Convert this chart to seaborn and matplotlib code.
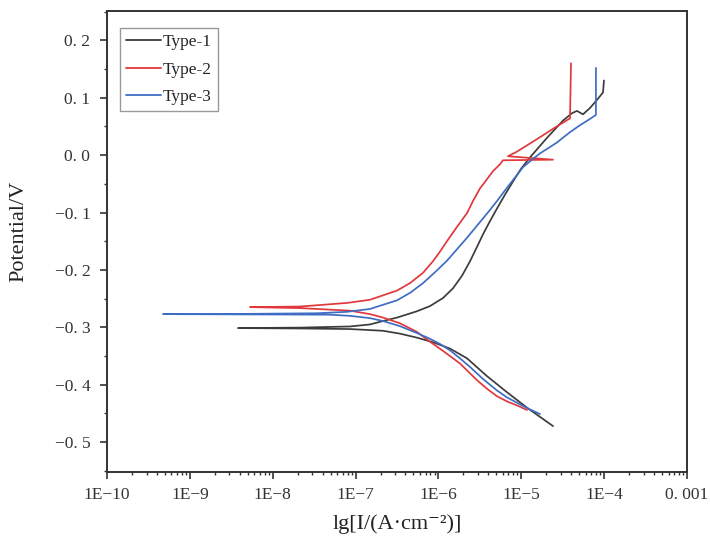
import numpy as np
import pandas as pd
import matplotlib
matplotlib.use("Agg")
import matplotlib.pyplot as plt
import seaborn as sns
from matplotlib.ticker import FixedLocator, FixedFormatter, MultipleLocator, LogLocator, NullFormatter

# Polarization curves: log10 of current density (A/cm^2) and potential (V),
# traced from the cathodic end, through Ecorr, up the anodic branch.
type1_log_i = [-4.617, -4.774, -4.931, -5.173, -5.414, -5.655, -5.861, -6.066, -6.259,
               -6.464, -6.669, -7.067, -7.671, -8.419,
               -7.671, -7.067, -6.826, -6.669, -6.500, -6.259, -6.102, -5.945, -5.824,
               -5.715, -5.619, -5.535, -5.462, -5.378, -5.293, -5.197, -5.100, -5.004,
               -4.895, -4.690, -4.497, -4.388, -4.328, -4.256, -4.171, -4.087, -4.014,
               -4.002]
type1_e = [-0.472, -0.456, -0.440, -0.413, -0.385, -0.354, -0.337, -0.326, -0.318,
           -0.311, -0.306, -0.303, -0.302, -0.3013,
           -0.3005, -0.2985, -0.295, -0.289, -0.283, -0.272, -0.263, -0.249, -0.232,
           -0.210, -0.185, -0.160, -0.138, -0.115, -0.093, -0.069, -0.046, -0.024,
           -0.004, 0.030, 0.060, 0.073, 0.077, 0.071, 0.082, 0.096, 0.109,
           0.130]

type2_log_i = [-4.931, -5.052, -5.173, -5.293, -5.414, -5.535, -5.655, -5.740, -5.861,
               -5.945, -6.102, -6.259, -6.464, -6.669, -6.826, -7.067, -7.671, -8.274,
               -7.671, -7.103, -6.826, -6.500, -6.343, -6.186, -6.066, -5.981, -5.897,
               -5.776, -5.655, -5.583, -5.498, -5.414, -5.342, -5.257, -5.221,
               -4.617, -5.161, -5.052, -4.931, -4.787, -4.593, -4.412, -4.400]
type2_e = [-0.444, -0.436, -0.429, -0.420, -0.407, -0.392, -0.375, -0.363, -0.350,
           -0.341, -0.325, -0.308, -0.293, -0.283, -0.277, -0.271, -0.2665, -0.2648,
           -0.2638, -0.2575, -0.252, -0.236, -0.223, -0.205, -0.185, -0.168, -0.150,
           -0.125, -0.101, -0.080, -0.058, -0.042, -0.028, -0.016, -0.009,
           -0.008, -0.002, 0.006, 0.017, 0.030, 0.048, 0.064, 0.160]

type3_log_i = [-4.774, -4.895, -4.979, -5.173, -5.293, -5.462, -5.619, -5.740, -5.861,
               -5.981, -6.102, -6.259, -6.464, -6.669, -6.826, -7.067, -7.309, -8.274,
               -9.324,
               -8.274, -7.466, -7.103, -6.826, -6.500, -6.343, -6.186, -6.041, -5.897,
               -5.776, -5.655, -5.535, -5.414, -5.293, -5.173, -5.076, -4.979, -4.871,
               -4.774, -4.654, -4.569, -4.412, -4.292, -4.171, -4.099, -4.099]
type3_e = [-0.451, -0.443, -0.437, -0.422, -0.410, -0.390, -0.369, -0.354, -0.340,
           -0.329, -0.320, -0.310, -0.298, -0.289, -0.284, -0.280, -0.278, -0.2775,
           -0.2770,
           -0.2765, -0.2755, -0.2730, -0.268, -0.253, -0.240, -0.223, -0.204, -0.184,
           -0.164, -0.144, -0.123, -0.102, -0.080, -0.057, -0.039, -0.021, -0.008,
           0.003, 0.014, 0.022, 0.040, 0.052, 0.063, 0.070, 0.152]

series = ["Type-1", "Type-2", "Type-3"]
colors = ["#3c3c3c", "#e0383c", "#3f6cc4"]

x_tick_values = [1e-10, 1e-9, 1e-8, 1e-7, 1e-6, 1e-5, 1e-4, 1e-3]
x_tick_labels = ["1E\u221210", "1E\u22129", "1E\u22128", "1E\u22127", "1E\u22126",
                 "1E\u22125", "1E\u22124", "0. 001"]
y_tick_values = [0.2, 0.1, 0.0, -0.1, -0.2, -0.3, -0.4, -0.5]
y_tick_labels = ["0. 2", "0. 1", "0. 0", "\u22120. 1", "\u22120. 2", "\u22120. 3",
                 "\u22120. 4", "\u22120. 5"]

frames = []
for name, li, e in [(series[0], type1_log_i, type1_e),
                    (series[1], type2_log_i, type2_e),
                    (series[2], type3_log_i, type3_e)]:
    frames.append(pd.DataFrame({
        "current": np.power(10.0, np.array(li)),
        "potential": e,
        "series": name,
    }))
df = pd.concat(frames, ignore_index=True)

sns.set_style("ticks")
plt.rcParams["font.family"] = ["Liberation Serif", "DejaVu Serif"]
ink = "#333333"

fig = plt.figure(figsize=(7.10, 5.47), dpi=100)
ax = fig.add_axes([107 / 710, 1 - 472 / 547, 580 / 710, 461 / 547])

sns.lineplot(data=df, x="current", y="potential", hue="series", hue_order=series,
             palette=colors, sort=False, estimator=None, units="series",
             linewidth=1.25, ax=ax, legend=True)

ax.set_xscale("log")
ax.set_xlim(1e-10, 1e-3)
ax.set_ylim(-0.552, 0.251)

ax.xaxis.set_major_locator(FixedLocator(x_tick_values))
ax.xaxis.set_major_formatter(FixedFormatter(x_tick_labels))
ax.xaxis.set_minor_locator(LogLocator(base=10, subs=np.arange(2, 10)))
ax.xaxis.set_minor_formatter(NullFormatter())
ax.yaxis.set_major_locator(FixedLocator(y_tick_values))
ax.yaxis.set_major_formatter(FixedFormatter(y_tick_labels))
ax.yaxis.set_minor_locator(MultipleLocator(0.05))

for side in ["left", "bottom", "top", "right"]:
    ax.spines[side].set_visible(True)
    ax.spines[side].set_color(ink)
    ax.spines[side].set_linewidth(1.4)

ax.tick_params(axis="both", which="major", direction="out", length=5, width=1.2,
               color=ink, labelcolor=ink, labelsize=12.5, pad=6)
ax.tick_params(axis="both", which="minor", direction="out", length=2.5, width=1.0,
               color=ink)
ax.tick_params(top=False, right=False, which="both")
ax.tick_params(axis="y", pad=7)

ax.set_xlabel("lg[I/(A\u00b7cm\u207b\u00b2)]", fontsize=16, color="#222222", labelpad=8)
ax.set_ylabel("Potential/V", fontsize=16, color="#222222")
ax.yaxis.set_label_coords(-0.135, 0.523)

leg = ax.legend(loc="upper left", bbox_to_anchor=(13 / 580, 1 - 17 / 461),
                borderaxespad=0, frameon=True, fancybox=False, fontsize=12.5,
                handlelength=2.0, handletextpad=0.1, labelspacing=0.65,
                borderpad=0.35, title=None)
leg.get_frame().set_edgecolor("#808080")
leg.get_frame().set_linewidth(1.0)
for line in leg.get_lines():
    line.set_linewidth(1.3)

fig.savefig("out.png", dpi=100)
